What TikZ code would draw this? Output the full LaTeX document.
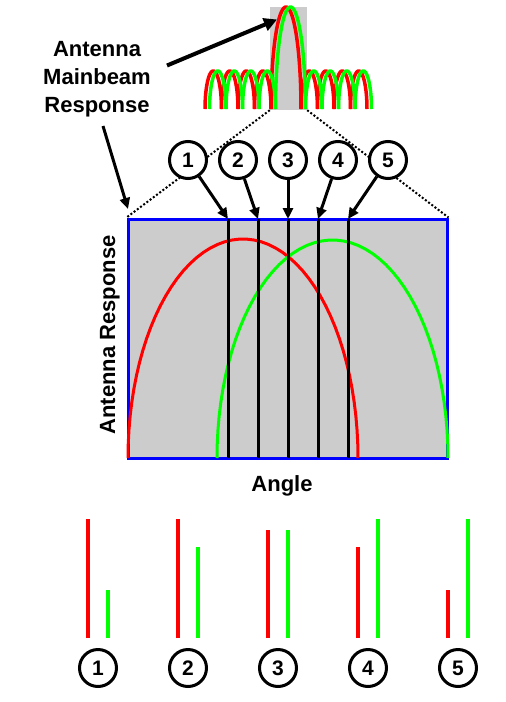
\documentclass[tikz,border=0pt]{standalone}
\usepackage{fontspec}
\setmainfont{Liberation Sans}
\usetikzlibrary{arrows.meta}
\definecolor{rd}{RGB}{255,0,0}
\definecolor{gn}{RGB}{0,255,0}
\definecolor{bl}{RGB}{0,0,255}
\definecolor{gy}{RGB}{204,204,204}
\newcommand{\archxy}[5]{\draw[#1] plot[domain=180:0,samples=50] ({#2+#3*cos(\x)},{#4-#5*sin(\x)});}
\begin{document}
\begin{tikzpicture}[x=1pt,y=-1pt,
 lbl/.style={font=\fontsize{22}{27.7}\selectfont\bfseries, align=center, inner sep=0},
 num/.style={circle, draw=black, line width=3pt, fill=white, minimum size=37pt, inner sep=0, font=\fontsize{21}{22}\selectfont\bfseries},
 ptr/.style={line width=3pt, -{Triangle[length=11pt,width=10pt]}},
 lobe/.style={line width=3.5pt},
 beam/.style={line width=3pt},
 bar/.style={line width=3.5pt},
 dots/.style={line width=2pt, dash pattern=on 2pt off 2pt},
]
\useasboundingbox (0,0) rectangle (506,702);

% top mainbeam window
\node[fill=gy, minimum width=37pt, minimum height=103pt, inner sep=0] (mb) at (288.5,58.5) {};
% sidelobes red
\foreach \c in {213.25,229.75,246.25,262.75,309.25,325.75,342.25,358.75}
  {\archxy{lobe,rd}{\c}{8.25}{109}{38}}
\archxy{lobe,rd}{286}{15}{109}{102}
% sidelobes green
\foreach \c in {217.75,234.25,250.75,267.25,313.75,330.25,346.75,363.25}
  {\archxy{lobe,gn}{\c}{8.25}{109}{38}}
\archxy{lobe,gn}{290.5}{15}{109}{102}

% main box
\node[draw=bl, fill=gy, line width=3pt, minimum width=319pt, minimum height=239pt, inner sep=0] (box) at (287.5,338.5) {};
\draw[dots] (mb.south west) -- (box.north west);
\draw[dots] (mb.south east) -- (box.north east);

\archxy{beam,rd}{243}{115}{458}{219}
\archxy{beam,gn}{332.5}{115.5}{458}{218}

\foreach \i/\xx in {1/228,2/258,3/288,4/318,5/348} {
  \coordinate (t\i) at (\xx,219);
  \coordinate (b\i) at (\xx,458);
  \draw[beam] (t\i) -- (b\i);
}
\foreach \i/\xx in {1/188,2/238,3/288,4/338,5/388} {
  \node[num] (c\i) at (\xx,160) {\i};
  \draw[ptr] (c\i) -- (t\i);
}

% labels
\node[lbl] (ttl) at (97,79.4) {Antenna\\Mainbeam\\Response};
\node[lbl, anchor=base] (ang) at (282,491.7) {Angle};
\node[lbl, anchor=base, rotate=90] (ar) at (115,335) {Antenna Response};

\coordinate (bas) at (167,65.5);
\coordinate (bae) at (277,19.5);
\draw[line width=4pt, -{Triangle[length=13pt,width=13pt]}] (bas) -- (bae);
\coordinate (sas) at (103,126);
\coordinate (sae) at (128,209);
\draw[ptr] (sas) -- (sae);

% bars
\foreach \i/\xx/\rt/\gt in {1/88/519/590,2/178/519/547,3/268/530/530,4/358/547/519,5/448/590/519} {
  \draw[bar,rd] (\xx,638) -- (\xx,\rt);
  \draw[bar,gn] (\xx+20,638) -- (\xx+20,\gt);
  \node[num] (d\i) at (\xx+10,668) {\i};
}
\end{tikzpicture}
\end{document}
